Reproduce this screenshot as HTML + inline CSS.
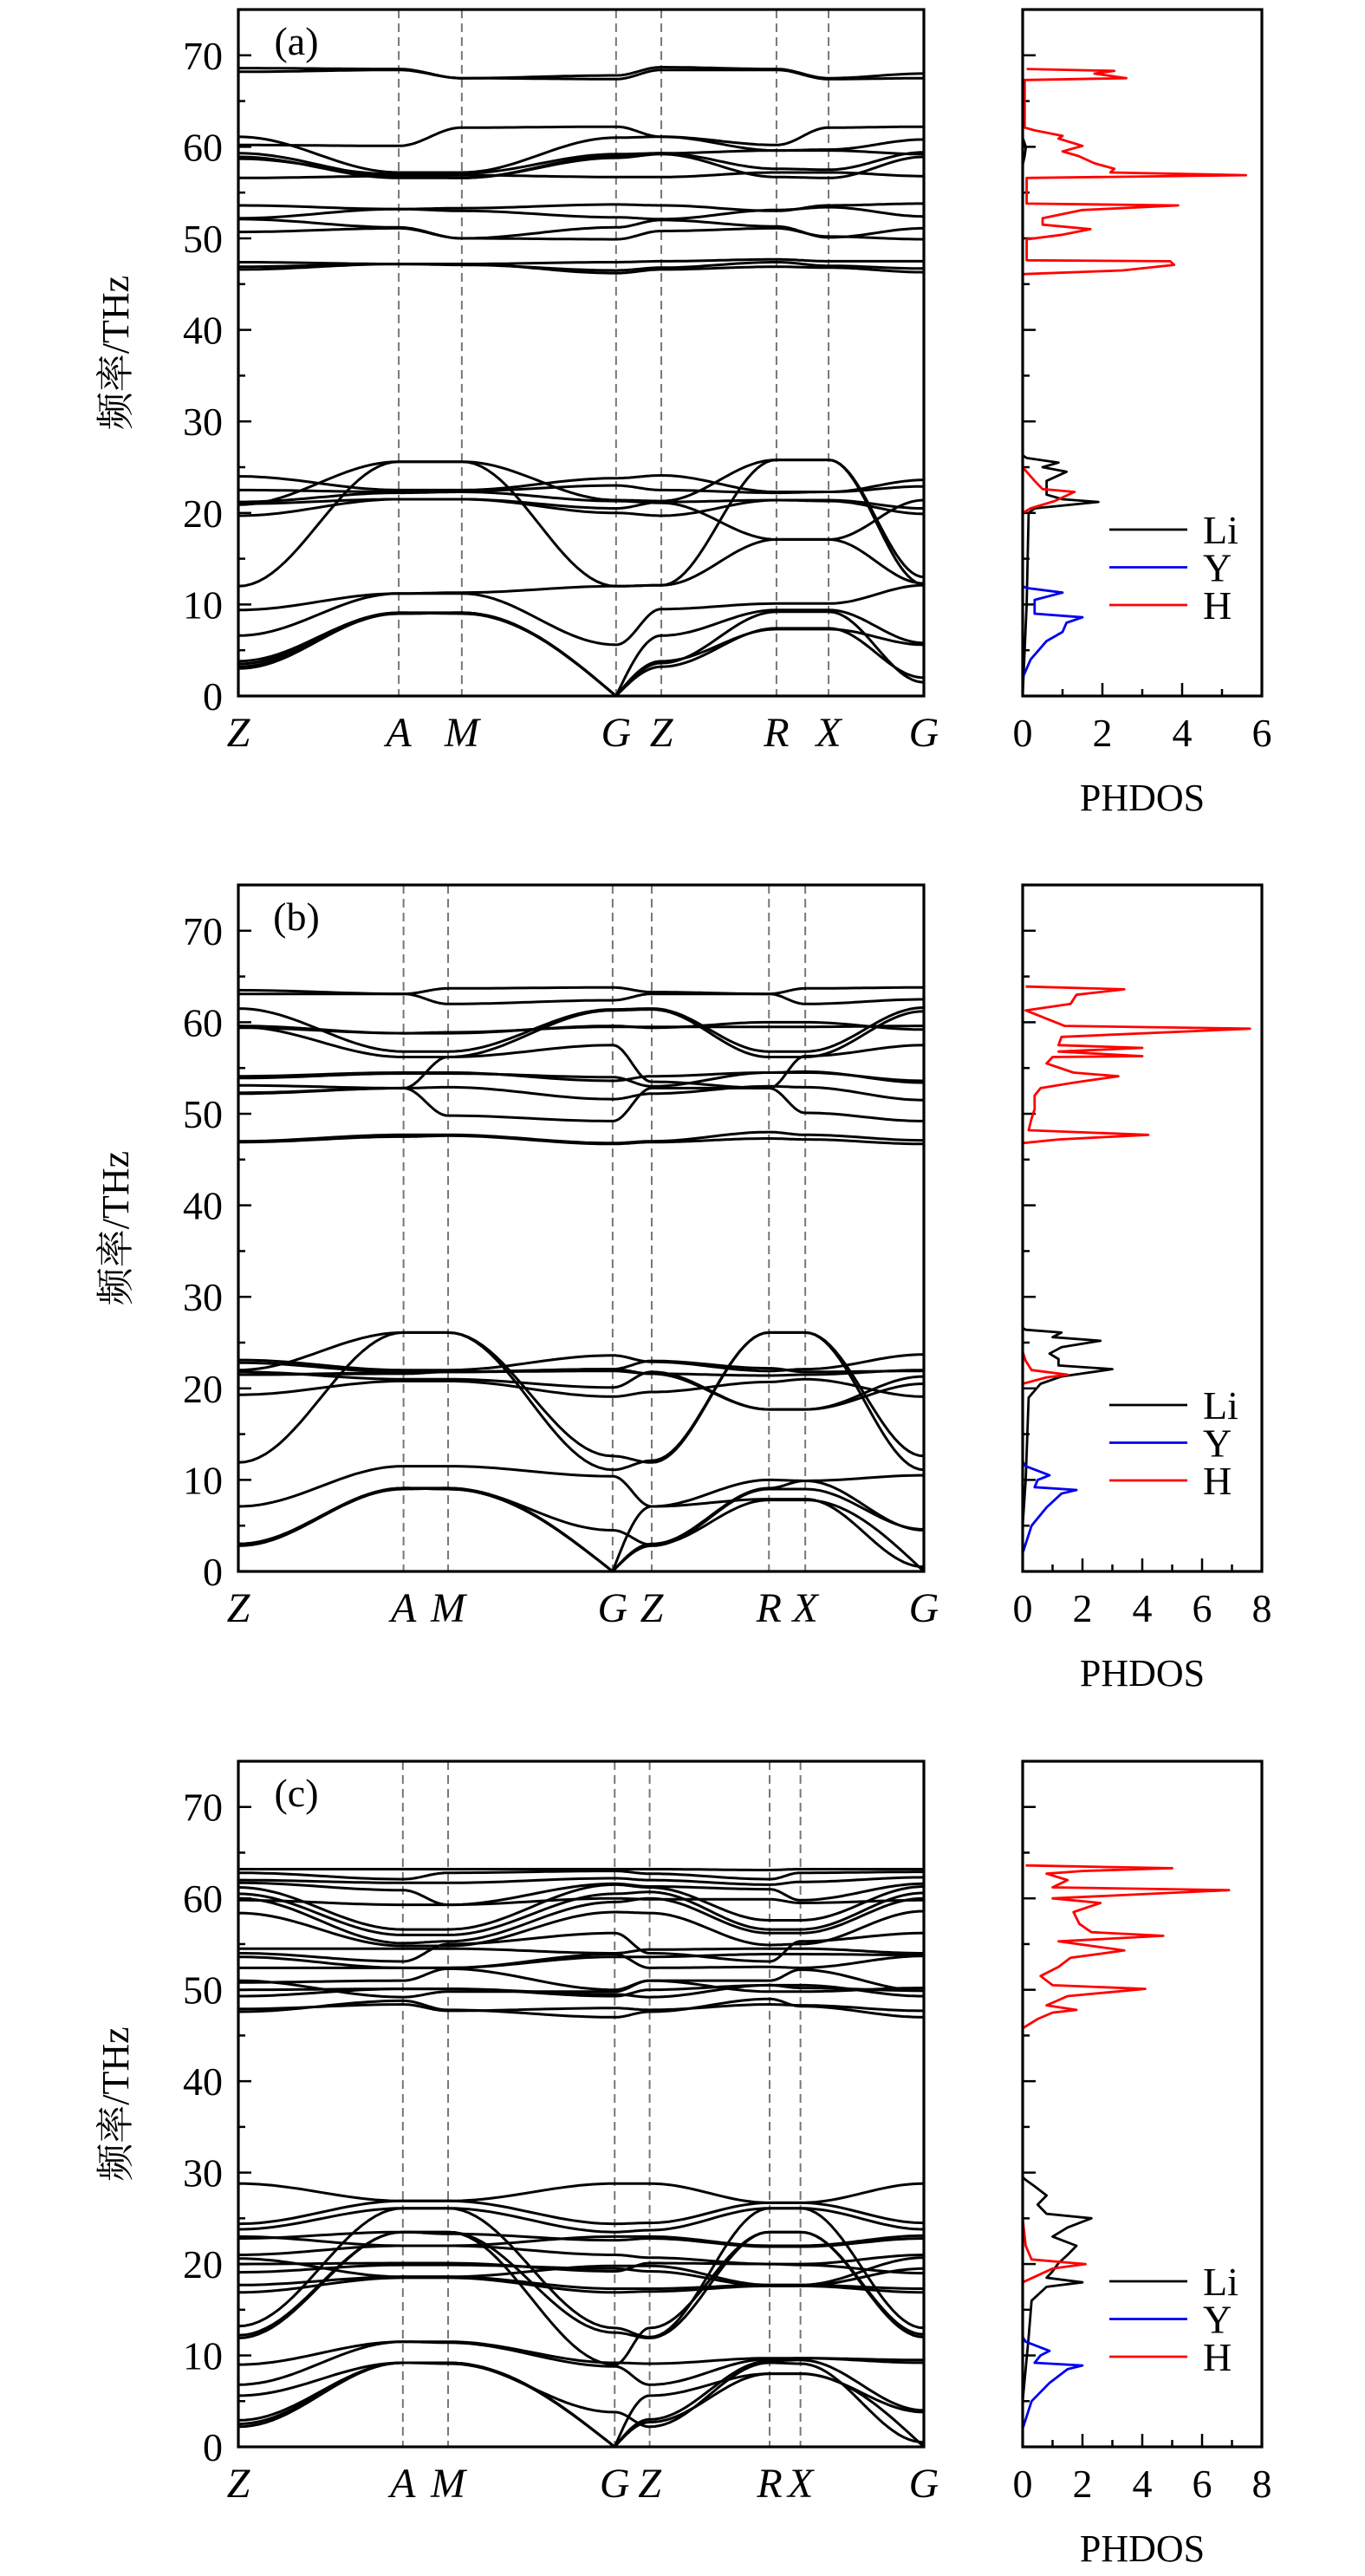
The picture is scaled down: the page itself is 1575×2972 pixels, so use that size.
<!DOCTYPE html>
<html><head><meta charset="utf-8"><style>
html,body{margin:0;padding:0;background:#fff;}
svg{display:block;}
text{font-family:"Liberation Serif","Noto Serif CJK SC",serif;fill:#000;}
</style></head>
<body>
<svg id="fig" width="1575" height="2972" viewBox="0 0 1575 2972" xmlns="http://www.w3.org/2000/svg"></svg>
<script>
// ---- data ----
const kLabels = ["Z","A","M","G","Z","R","X","G"];
const kFracA = [0,0.234,0.326,0.551,0.617,0.785,0.861,1];
const kFracB = [0,0.241,0.306,0.546,0.603,0.774,0.827,1];
const kFracC = [0,0.240,0.306,0.549,0.600,0.775,0.820,1];
const yTicks = [0,10,20,30,40,50,60,70];
const dosTicksA = [0,2,4,6];
const dosTicksBC = [0,2,4,6,8];

const bandsA = [
[68.6,68.5,67.5,67.8,68.7,68.5,67.5,68.0],[68.2,68.4,67.5,67.4,68.4,68.4,67.4,67.5],
[60.2,60.1,62.1,62.2,61.1,60.2,62.1,62.2],[61.1,57.2,57.2,61.0,61.1,59.6,59.7,60.8],
[59.3,56.8,56.6,59.0,59.3,57.6,57.5,59.4],[58.9,56.6,56.6,58.8,59.2,56.7,56.6,58.9],
[56.6,56.8,56.9,56.7,56.7,57.2,57.2,56.8],[58.7,57.0,57.1,59.2,59.3,59.6,59.6,59.2],
[53.6,53.2,53.3,53.7,53.6,53.0,53.6,53.8],[52.2,53.2,53.0,52.3,52.1,53.1,53.4,52.4],
[52.1,51.2,50.0,51.2,52.0,51.3,50.1,51.1],[50.7,51.1,50.0,49.9,50.8,51.1,50.2,49.9],
[47.4,47.2,47.2,47.4,47.5,47.7,47.5,47.5],[46.6,47.2,47.2,46.2,46.6,46.9,46.8,46.3],
[46.9,47.2,47.1,46.5,46.8,47.4,47.0,46.7],
[12.0,25.6,25.6,12.0,12.1,25.8,25.8,12.2],[20.9,25.6,25.6,21.4,21.3,25.8,25.8,13.0],
[24.0,22.5,22.5,23.8,24.1,22.3,22.3,23.6],[22.5,22.3,22.4,23.0,22.5,22.2,22.3,22.9],
[21.0,21.5,21.5,20.5,21.2,21.4,21.4,20.5],[19.7,21.5,21.5,20.0,19.7,21.4,21.3,19.9],
[21.2,22.2,22.3,21.3,21.1,17.1,17.1,21.4],[9.4,11.2,11.3,12.0,12.1,17.1,17.1,12.3],
[6.6,11.2,11.2,5.6,9.5,10.1,10.1,12.1],[3.8,9.1,9.1,0,6.6,9.4,9.4,5.8],
[3.2,9.0,9.1,0,3.8,7.3,7.3,5.6],[3.0,9.1,9.0,0,3.2,7.4,7.4,2.0],[3.5,9.0,9.1,0,3.6,9.2,9.2,1.5]
];
const bandsB = [
[63.5,63.1,63.7,63.8,63.3,63.1,63.7,63.8],[63.1,63.1,62.0,62.4,63.1,63.1,62.0,62.5],
[61.5,56.8,56.8,61.4,61.5,56.8,56.8,61.6],[59.5,56.2,56.2,61.3,61.4,56.2,56.2,61.2],
[59.4,58.8,58.9,59.5,59.5,59.5,59.5,59.6],[59.6,58.8,58.8,59.6,59.4,60.0,60.0,59.2],
[54.1,54.5,54.5,53.6,54.1,54.5,54.5,53.6],[53.1,52.8,56.2,57.5,53.5,52.8,56.3,57.5],
[52.2,52.8,49.8,49.2,52.8,52.8,50.1,49.2],[53.9,54.4,54.4,54.0,53.0,54.5,54.6,53.4],
[52.3,52.8,52.9,51.6,52.2,53.0,52.9,51.5],[47.0,47.7,47.7,46.8,47.0,48.0,47.7,47.1],
[46.9,47.5,47.6,46.7,46.9,47.3,47.2,46.7],
[11.9,26.1,26.1,12.6,11.9,26.1,26.1,12.6],[22.0,26.1,26.1,11.1,12.1,26.1,26.1,11.1],
[23.1,22.0,22.0,23.6,22.9,21.9,22.1,23.7],[22.8,21.8,21.8,22.1,23.0,22.2,21.8,21.9],
[21.5,21.6,21.8,21.9,21.6,21.4,21.5,22.0],[19.3,20.8,20.8,19.1,19.6,20.7,21.0,19.1],
[21.8,21.0,21.0,20.1,21.8,17.7,17.7,21.3],[21.5,21.7,21.8,22.1,21.6,17.7,17.7,20.5],
[7.1,11.5,11.5,10.4,7.1,10.0,9.9,10.5],[3.0,9.1,9.1,0,2.8,9.0,9.0,4.6],
[2.9,9.0,9.1,4.5,2.9,7.8,7.8,0],[3.0,9.1,9.0,0,7.1,7.9,7.9,0.5],[2.8,9.1,9.0,0,3.0,9.1,9.9,4.5]
];
const bandsC = [
[63.2,63.2,63.2,63.2,63.2,63.1,63.2,63.2],[62.8,62.1,62.8,63.0,62.7,62.1,62.8,62.9],
[62.0,61.7,61.7,62.2,62.0,61.5,61.8,62.3],[61.7,60.9,59.3,61.6,61.3,61.0,59.8,61.6],
[61.2,56.6,56.6,61.5,61.2,57.6,57.6,61.3],[60.5,56.0,56.0,60.5,60.7,56.6,56.6,60.6],
[60.0,55.1,55.3,59.6,60.0,56.2,56.2,60.0],[59.8,59.3,59.3,60.0,59.9,59.9,59.5,59.8],
[58.4,54.8,54.8,58.5,58.4,54.9,55.0,58.6],[54.5,54.5,54.5,54.0,54.4,54.5,54.5,54.0],
[54.0,53.1,55.0,56.2,54.0,53.1,55.3,56.2],[53.6,52.4,52.4,53.9,52.4,52.5,52.4,53.7],
[52.4,52.4,52.4,53.6,53.6,53.9,53.9,53.8],[51.0,49.2,49.8,49.8,51.0,49.8,49.8,50.2],
[50.0,50.1,50.1,49.3,50.0,50.5,50.5,49.3],[49.3,50.1,50.1,49.5,49.2,50.5,50.2,49.9],
[47.6,48.8,47.8,47.0,47.6,49.0,48.2,47.0],[47.9,48.4,47.7,48.0,47.8,48.4,48.3,47.7],
[50.8,51.0,52.3,50.0,51.0,51.0,52.2,49.9],
[28.8,26.9,26.9,28.8,28.8,26.7,26.7,28.8],[24.4,26.9,26.9,24.4,24.5,26.7,26.7,24.5],
[23.8,26.1,26.1,23.5,23.7,26.1,26.1,23.8],[13.2,26.1,26.1,13.0,12.0,26.1,26.1,13.0],
[11.9,23.5,23.5,12.5,11.9,23.5,23.5,12.3],[12.2,23.5,23.5,9.0,13.0,23.5,23.5,12.0],
[22.8,23.5,23.3,22.6,22.8,21.9,21.9,22.8],[23.0,22.0,22.0,23.0,23.0,22.0,22.0,23.1],
[21.0,22.0,22.0,21.0,20.7,20.0,20.0,21.0],[20.0,20.1,20.1,19.2,20.1,20.0,19.9,19.0],
[19.1,19.9,19.9,19.5,19.2,17.6,17.6,19.5],[17.7,18.6,18.6,17.3,17.3,17.7,17.7,17.3],
[16.9,18.5,18.5,16.9,17.0,17.6,17.6,16.9],[20.6,18.6,18.6,19.8,19.8,17.7,17.7,20.7],
[9.0,11.5,11.5,9.2,9.1,9.7,9.7,9.5],[6.8,11.5,11.4,8.8,6.8,9.6,9.7,9.2],
[5.6,9.2,9.2,0,3.0,9.4,9.5,4.0],[2.9,9.2,9.2,0,2.7,8.0,8.0,3.8],
[2.2,9.2,9.1,0,5.6,8.0,8.0,0],[2.5,9.2,9.2,3.8,2.2,9.2,9.1,0.5]
];
// DOS: [frequency, density]
const dosA_H = [[20,0],[20.5,0.2],[21.3,0.8],[22.3,1.3],[22.6,0.5],[23.5,0.3],[24.5,0.1],[25,0],[46.0,0],[46.1,0.05],[46.5,2.5],[47.1,3.8],[47.5,3.7],[47.6,0.1],[49.9,0.1],[50.4,1.0],[51.0,1.7],[51.5,0.5],[52.2,0.5],[53.1,1.5],[53.6,3.9],[53.8,0.1],[56.6,0.1],[56.9,5.6],[57.2,2.2],[57.6,2.3],[58.2,1.8],[59.0,1.4],[59.5,1.0],[60.1,1.5],[60.9,0.9],[61.2,1.0],[61.8,0.3],[62.1,0.05],[67.3,0.05],[67.5,2.6],[68.0,1.8],[68.3,2.3],[68.5,0.1]];
const dosA_Li = [[0,0],[10,0.1],[20,0.15],[20.5,0.3],[21.2,1.9],[21.5,1.0],[22.0,0.6],[23.5,0.6],[24.5,1.1],[25.0,0.5],[25.5,0.9],[26.0,0.1],[26.3,0],[58,0],[59,0.05],[60,0.08],[61,0]];
const dosA_Y = [[2,0],[4,0.2],[6,0.6],[7,1.0],[8,1.1],[8.6,1.5],[9.0,0.3],[10.5,0.3],[11.3,1.0],[11.8,0.1],[12,0]];
const dosB_H = [[20.5,0],[21.2,0.8],[21.5,1.5],[22.0,0.3],[23,0.1],[24,0],[46.8,0],[47.2,1.2],[47.7,4.2],[48.2,0.2],[49.5,0.3],[50.5,0.4],[52.0,0.4],[52.8,0.6],[53.4,1.7],[54.1,3.2],[54.5,1.7],[55.5,0.8],[56.2,1.0],[56.3,4.0],[56.8,1.2],[57.2,4.0],[57.5,1.2],[58.4,1.3],[59.3,7.6],[59.6,1.4],[61.3,0.1],[62.0,1.6],[63.0,1.8],[63.6,3.4],[63.9,0.1]];
const dosB_Li = [[5,0],[10,0.1],[19,0.2],[20.5,0.6],[21.3,1.3],[22.1,3.0],[22.5,1.2],[23.2,1.2],[23.8,0.9],[24.5,1.3],[25.2,2.6],[25.6,1.0],[26.1,1.3],[26.4,0.1],[26.6,0]];
const dosB_Y = [[2,0],[5,0.3],[7,0.8],[8.5,1.3],[8.9,1.8],[9.2,0.4],[10.0,0.5],[10.5,0.9],[11.5,0.1],[12,0]];
const dosC_H = [[18,0],[19.5,1.0],[20.0,2.1],[20.5,0.3],[22,0.1],[25,0],[45.8,0],[46.8,0.5],[47.5,1.0],[47.8,1.8],[48.3,0.8],[49.3,1.5],[50.1,4.1],[50.5,1.0],[51.5,0.6],[52.5,1.2],[53.5,1.6],[54.3,3.4],[55.3,1.2],[55.9,4.7],[56.3,2.3],[57.2,1.9],[58.5,1.7],[59.5,2.6],[60.0,1.0],[60.9,6.9],[61.2,1.0],[62.0,1.5],[62.7,0.8],[63.0,2.0],[63.3,5.0],[63.6,0.1]];
const dosC_Li = [[5,0],[12,0.2],[16,0.3],[17.5,0.8],[18.0,2.0],[18.5,0.8],[19.2,1.0],[20.1,1.2],[21.0,1.5],[22.0,1.8],[23.0,1.0],[24.0,1.5],[25.0,2.3],[25.5,0.8],[26.5,0.5],[27.5,0.8],[28.5,0.4],[29.2,0.1],[29.5,0]];
const dosC_Y = [[2,0],[5,0.3],[7,0.9],[8.5,1.5],[8.9,2.0],[9.2,0.4],[10.0,0.6],[10.5,0.9],[11.5,0.1],[12,0]];

// ---- layout ----
const NS = "http://www.w3.org/2000/svg";
const svg = document.getElementById('fig');
const X0 = 275, X1 = 1066, D0 = 1180, D1 = 1456, FMAX = 75;
const panels = [
 {id:'a', top:11, bottom:803, kf:kFracA, bands:bandsA, dmax:6, dt:dosTicksA, H:dosA_H, Li:dosA_Li, Y:dosA_Y},
 {id:'b', top:1021, bottom:1813, kf:kFracB, bands:bandsB, dmax:8, dt:dosTicksBC, H:dosB_H, Li:dosB_Li, Y:dosB_Y},
 {id:'c', top:2032, bottom:2823, kf:kFracC, bands:bandsC, dmax:8, dt:dosTicksBC, H:dosC_H, Li:dosC_Li, Y:dosC_Y}
];
function mk(tag, attrs, parent){
  const e = document.createElementNS(NS, tag);
  for (const k in attrs) e.setAttribute(k, attrs[k]);
  (parent||svg).appendChild(e);
  return e;
}
function txt(s, x, y, size, anchor, parent, italic){
  const t = mk('text', {x:x, y:y, 'font-size':size, 'text-anchor':anchor||'middle'}, parent);
  if (italic) t.setAttribute('font-style','italic');
  t.textContent = s;
  return t;
}
function weight(t, a, b){
  if (b === 0 && a !== 0) return 1 - Math.cos(Math.PI * t / 2);
  if (a === 0 && b !== 0) return Math.sin(Math.PI * t / 2);
  return (1 - Math.cos(Math.PI * t)) / 2;
}
panels.forEach(p => {
  const g = mk('g', {});
  
  
  const yS = f => p.bottom - (f / FMAX) * (p.bottom - p.top);
  const xS = k => X0 + k * (X1 - X0);
  const dS = v => D0 + (v / p.dmax) * (D1 - D0);
  for (let i = 1; i < p.kf.length - 1; i++) {
    const l = mk('line', {x1:xS(p.kf[i]), x2:xS(p.kf[i]), y1:p.top, y2:p.bottom, stroke:'#777', 'stroke-width':2, 'stroke-dasharray':'10 6'}, g);
    
    
  }
  p.bands.forEach((b, bi) => {
    let d = '';
    for (let s = 0; s < p.kf.length - 1; s++) {
      const n = 24;
      for (let j = 0; j <= n; j++) {
        if (s > 0 && j === 0) continue;
        const t = j / n;
        const k = p.kf[s] + t * (p.kf[s+1] - p.kf[s]);
        const f = b[s] + (b[s+1] - b[s]) * weight(t, b[s], b[s+1]);
        d += (d ? 'L' : 'M') + xS(k).toFixed(1) + ' ' + yS(f).toFixed(1);
      }
    }
    const path = mk('path', {d:d, fill:'none', stroke:'#000', 'stroke-width':3, 'stroke-linejoin':'round'}, g);
    
    
  });
  const fr = mk('rect', {x:X0, y:p.top, width:X1 - X0, height:p.bottom - p.top, fill:'none', stroke:'#000', 'stroke-width':3.2}, g);
  
  
  for (let f = 0; f <= FMAX; f += 5) {
    const major = f % 10 === 0;
    mk('line', {x1:X0, x2:X0 + (major ? 15 : 8), y1:yS(f), y2:yS(f), stroke:'#000', 'stroke-width':2.5}, g);
    mk('line', {x1:D0, x2:D0 + (major ? 15 : 8), y1:yS(f), y2:yS(f), stroke:'#000', 'stroke-width':2.5}, g);
  }
  yTicks.forEach(v => {
    const t = txt(String(v), 257, yS(v) + 16, 46, 'end', g);
    
    
  });
  p.kf.forEach((k, i) => {
    const t = txt(kLabels[i], xS(k), p.bottom + 58, 48, 'middle', g, true);
    
    
  });
  const yt = txt('频率/THz', 0, 0, 44, 'middle', g);
  yt.setAttribute('transform', 'translate(148,' + ((p.top + p.bottom) / 2) + ') rotate(-90)');
  
  
  const pl = txt('(' + p.id + ')', 342, p.top + 52, 46, 'middle', g);
  
  
  [['Li', '#000', p.Li], ['Y', '#0000ee', p.Y], ['H', '#ff0000', p.H]].forEach(([name, col, arr]) => {
    const pts = arr.map(q => dS(q[1]).toFixed(1) + ',' + yS(q[0]).toFixed(1)).join(' ');
    const pl2 = mk('polyline', {points:pts, fill:'none', stroke:col, 'stroke-width':2.8, 'stroke-linejoin':'round'}, g);
    
    
  });
  const df = mk('rect', {x:D0, y:p.top, width:D1 - D0, height:p.bottom - p.top, fill:'none', stroke:'#000', 'stroke-width':3.2}, g);
  
  
  for (let v = 0; v <= p.dmax; v += 1) {
    const major = v % 2 === 0;
    mk('line', {x1:dS(v), x2:dS(v), y1:p.bottom, y2:p.bottom - (major ? 15 : 8), stroke:'#000', 'stroke-width':2.5}, g);
  }
  p.dt.forEach(v => {
    const t = txt(String(v), dS(v), p.bottom + 58, 46, 'middle', g);
    
    
  });
  const xl = txt('PHDOS', 1318, p.bottom + 132, 44, 'middle', g);
  
  
  [['Li', '#000'], ['Y', '#0000ee'], ['H', '#ff0000']].forEach(([name, col], i) => {
    const yy = p.top + 600 + i * 43.5;
    const ll = mk('line', {x1:1280, x2:1370, y1:yy, y2:yy, stroke:col, 'stroke-width':2.8}, g);
    
    
    const lt = txt(name, 1388, yy + 16, 46, 'start', g);
    
    
  });
});
</script>
</body></html>
